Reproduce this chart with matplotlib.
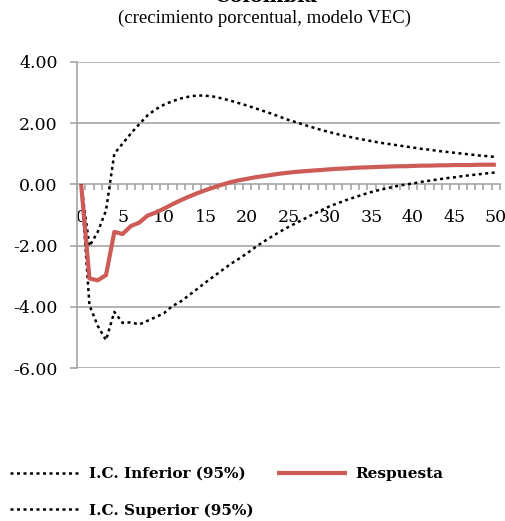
import matplotlib
matplotlib.use("Agg")
import matplotlib.pyplot as plt
import numpy as np
from matplotlib.ticker import FixedLocator

periods = list(range(0, 51))
respuesta = [0.00, -3.07, -3.13, -2.96, -1.55, -1.62, -1.36, -1.25, -1.02, -0.92,
             -0.79, -0.65, -0.52, -0.40, -0.29, -0.19, -0.10, -0.01, 0.07, 0.13,
             0.18, 0.23, 0.27, 0.31, 0.35, 0.38, 0.41, 0.43, 0.45, 0.47,
             0.49, 0.51, 0.52, 0.54, 0.55, 0.56, 0.57, 0.58, 0.59, 0.59,
             0.60, 0.61, 0.61, 0.62, 0.62, 0.63, 0.63, 0.63, 0.64, 0.64, 0.64]
ic_inferior = [0.00, -3.94, -4.62, -5.08, -4.16, -4.52, -4.50, -4.57, -4.45, -4.33,
               -4.20, -3.97, -3.82, -3.62, -3.41, -3.20, -3.00, -2.80, -2.60, -2.43,
               -2.25, -2.05, -1.87, -1.70, -1.54, -1.39, -1.25, -1.11, -0.97, -0.84,
               -0.71, -0.61, -0.51, -0.42, -0.33, -0.25, -0.18, -0.12, -0.06, -0.01,
               0.03, 0.08, 0.12, 0.16, 0.20, 0.23, 0.27, 0.30, 0.33, 0.36, 0.39]
ic_superior = [0.00, -2.02, -1.55, -0.85, 1.00, 1.33, 1.66, 1.96, 2.25, 2.45,
               2.60, 2.71, 2.80, 2.86, 2.90, 2.89, 2.86, 2.80, 2.73, 2.65,
               2.57, 2.48, 2.39, 2.30, 2.20, 2.10, 2.02, 1.93, 1.85, 1.77,
               1.70, 1.63, 1.57, 1.51, 1.46, 1.41, 1.36, 1.32, 1.28, 1.24,
               1.20, 1.16, 1.13, 1.09, 1.06, 1.03, 1.00, 0.97, 0.94, 0.92, 0.89]
y_ticks = [-6, -4, -2, 0, 2, 4]
x_ticks = list(range(0, 51, 5))
title = "Colombia"
subtitle = "(crecimiento porcentual, modelo VEC)"

W, H = 506, 521
fig = plt.figure(figsize=(W / 100, H / 100), dpi=100)
ax = fig.add_axes([77 / W, 1 - 368.3 / H, (500 - 77) / W, (368.3 - 61.7) / H])

grid_c = "#A6A6A6"
serif = ["DejaVu Serif"]
red = "#CD5C57"

ax.set_xlim(-0.5, 50.5)
ax.set_ylim(-6, 4)
for s in ["top", "right"]:
    ax.spines[s].set_visible(False)
ax.spines["left"].set_color(grid_c)
ax.spines["left"].set_linewidth(1.2)
ax.spines["bottom"].set_position(("data", 0))
ax.spines["bottom"].set_color(grid_c)
ax.spines["bottom"].set_linewidth(1.2)

ax.set_yticks(y_ticks)
ax.set_yticklabels([f"{v:.2f}" for v in y_ticks], fontfamily=serif, fontsize=12.5)
ax.tick_params(axis="y", direction="out", length=5, width=1.2, color=grid_c, pad=9)
for v in y_ticks:
    if v != 0:
        ax.axhline(v, color=grid_c, lw=1.2, zorder=1)

ax.set_xticks(x_ticks)
ax.set_xticklabels([str(v) for v in x_ticks], fontfamily=serif, fontsize=12.5)
ax.xaxis.set_minor_locator(FixedLocator(np.arange(-0.5, 51, 1.0)))
ax.tick_params(axis="x", which="major", length=0, pad=18)
ax.tick_params(axis="x", which="minor", direction="out", length=4, width=1.2, color=grid_c)

dot = (0, (1.2, 1.4))
l_inf, = ax.plot(periods, ic_inferior, color="black", lw=1.8, linestyle=dot, zorder=3)
l_sup, = ax.plot(periods, ic_superior, color="black", lw=1.8, linestyle=dot, zorder=3)
l_res, = ax.plot(periods, respuesta, color=red, lw=3, zorder=4, solid_capstyle="butt")

fig.text(266 / W, 1 - 2 / H, title, ha="center", va="baseline",
         fontfamily=serif, fontweight="bold", fontsize=14)
fig.text(264.5 / W, 1 - 18 / H, subtitle, ha="center", va="center",
         fontfamily=["Liberation Serif"], fontsize=13.5)

leg = fig.legend([l_inf, l_sup, l_res],
                 ["I.C. Inferior (95%)", "I.C. Superior (95%)", "Respuesta"],
                 ncol=2, loc="upper left", bbox_to_anchor=(10 / W, 1 - 467 / H),
                 frameon=False, borderpad=0, borderaxespad=0,
                 handlelength=4.6, handletextpad=0.55, columnspacing=1.55,
                 labelspacing=1.45,
                 prop={"family": serif, "weight": "bold", "size": 11})

fig.savefig("out.png", dpi=100)
